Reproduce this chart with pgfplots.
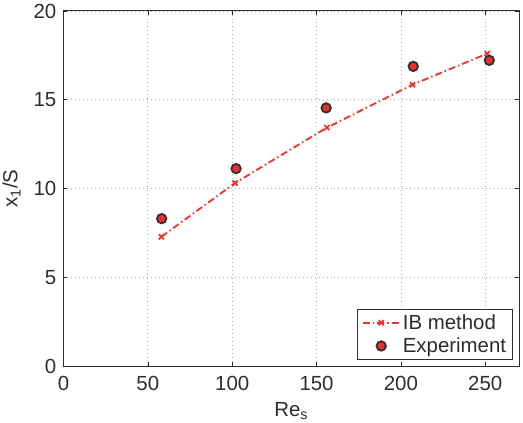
\documentclass[border=0pt]{standalone}
\usepackage{pgfplots}
\pgfplotsset{compat=1.18}
\usepackage{fontspec}
\setmainfont{Liberation Sans}
\definecolor{ibred}{RGB}{238,48,40}
\definecolor{gridgray}{RGB}{175,175,175}
\definecolor{txt}{RGB}{45,45,45}
\begin{document}
\begin{tikzpicture}
\begin{axis}[
  scale only axis,
  width=455.5bp, height=355bp,
  xmin=0, xmax=270, ymin=0, ymax=20,
  xtick={0,50,...,250}, ytick={0,5,...,20},
  tick align=inside, tick pos=both,
  major tick length=4bp,
  tick style={txt, line width=0.6pt},
  grid=major,
  major grid style={gridgray, line width=0.8pt, dash pattern=on 0.8pt off 3.2pt},
  axis line style={txt, line width=1pt},
  /pgf/number format/assume math mode=true,
  tick label style={font=\fontsize{20.5}{22}\selectfont, text=txt, inner sep=0pt},
  xticklabel style={anchor=base, yshift=-24.5bp},
  yticklabel style={anchor=east, xshift=-7bp},
  xlabel={Re\textsubscript{s}},
  ylabel={x\textsubscript{1}/S},
  label style={font=\fontsize{20.5}{22}\selectfont, text=txt},
  xlabel style={at={(axis description cs:0.5,-0.142)}, anchor=base},
  ylabel style={at={(axis description cs:-0.114,0.5)}, anchor=center},
  legend style={at={(0.986,0.018)}, anchor=south east,
    font=\fontsize{20.5}{22}\selectfont, text=txt, draw=txt, line width=1pt,
    inner xsep=4bp, inner ysep=3bp, row sep=3bp},
  legend cell align=left,
  legend image code/.code={%
    \draw[mark repeat=2, mark phase=2, #1]
      plot coordinates {(0cm,0cm) (0.66cm,0cm) (1.32cm,0cm)};},
]
\addplot[ibred, line width=1.8pt, dash pattern=on 7bp off 3bp on 1.5bp off 3bp,
  mark=x, mark size=3.6pt, mark options={solid, line width=1.7pt}]
  coordinates {(58.0,7.28) (101.7,10.31) (156.1,13.43) (206.9,15.85) (251.2,17.6)};
\addlegendentry{IB method}
\addplot[only marks, mark=*, mark size=4.7pt,
  mark options={fill=ibred, draw=black!80, line width=1.9pt}]
  coordinates {(58.2,8.30) (102.3,11.12) (155.7,14.54) (207.3,16.88) (252.4,17.22)};
\addlegendentry{Experiment}
\end{axis}
\pgfresetboundingbox
\path[use as bounding box] (-63.5bp,-57bp) rectangle (459.5bp,366bp);
\end{tikzpicture}
\end{document}
